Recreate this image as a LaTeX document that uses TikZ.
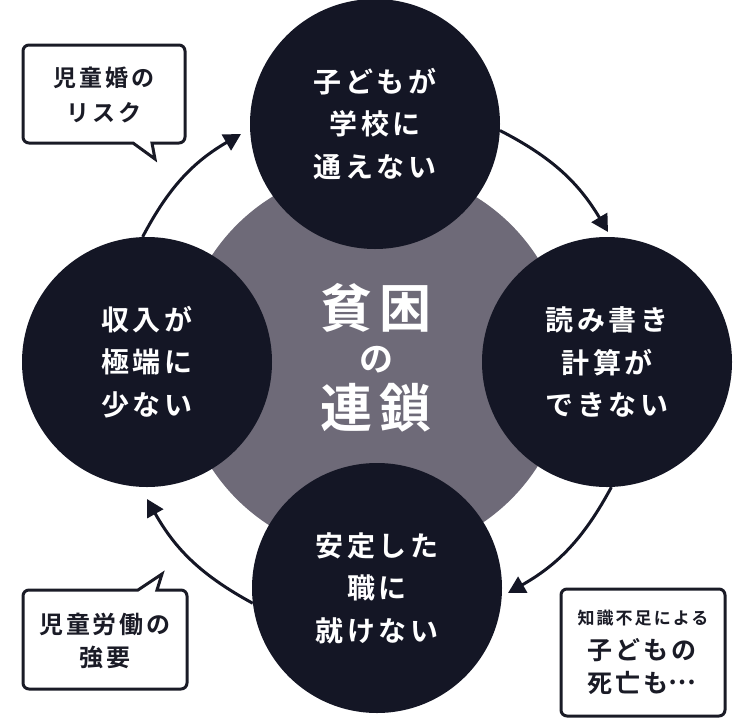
\documentclass[tikz,border=0pt]{standalone}
\usepackage{fontspec}
\setmainfont{Noto Sans CJK JP}[BoldFont={Noto Sans CJK JP Bold}, LetterSpace=12]
\usetikzlibrary{arrows.meta}
\definecolor{navy}{HTML}{141625}
\definecolor{graycirc}{HTML}{6E6A78}
\definecolor{inkc}{HTML}{1A1B26}
\begin{document}
\begin{tikzpicture}[x=1pt,y=-1pt,
  circ/.style={circle, fill=navy, minimum size=250pt, inner sep=0pt, text=white,
    font=\bfseries\fontsize{28}{42.5}\selectfont, align=center},
  arr/.style={line width=3pt, draw=navy, -{Triangle[length=17pt,width=18pt]}},
  callout/.style={draw=inkc, line width=3pt, fill=white, line join=miter},
  calltext/.style={text=inkc, align=center, inner sep=0pt},
  centertext/.style={text=white, inner sep=0pt}]
\useasboundingbox (0,0) rectangle (750,718);
% central disc
\fill[graycirc] (374,362) circle[radius=194];
% four states
\node[circ] (T) at (375,124) {子どもが\\学校に\\通えない};
\node[circ] (R) at (607,362) {読み書き\\計算が\\できない};
\node[circ] (B) at (377,588) {安定した\\職に\\就けない};
\node[circ] (L) at (147,362) {収入が\\極端に\\少ない};
% centre title
\node[centertext, font=\bfseries\fontsize{52}{52}\selectfont] (t1) at (376,308) {貧困};
\node[centertext, font=\bfseries\fontsize{34}{34}\selectfont] (t2) at (376,360) {の};
\node[centertext, font=\bfseries\fontsize{52}{52}\selectfont] (t3) at (376,408) {連鎖};
% cycle arrows
\coordinate (h1) at (241,134);
\coordinate (h2) at (608,232);
\coordinate (h3) at (508,593);
\coordinate (h4) at (147,499);
\draw[arr] (L.92) to[bend left=16] (h1);
\draw[arr] (T.-3) to[bend left=16] (h2);
\draw[arr] (R.-88) to[bend left=16] (h3);
\draw[arr] (B.187) to[bend left=16] (h4);
% callout 1
\draw[callout] (23,94) [rounded corners=6pt] -- (23,45) -- (185,45) -- (185,143) -- (168,143)
  [sharp corners] -- (152,143) -- (155,159) -- (133,143) -- (110,143)
  [rounded corners=6pt] -- (23,143) -- cycle;
\node[calltext, font=\bfseries\fontsize{23}{35}\selectfont] (c1) at (104,95) {児童婚の\\リスク};
% callout 2
\draw[callout] (23,640) [rounded corners=6pt] -- (23,689) -- (187,689) -- (187,590) -- (170,590)
  [sharp corners] -- (157,590) -- (162,574) -- (138,590) -- (110,590)
  [rounded corners=6pt] -- (23,590) -- cycle;
\node[calltext, font=\bfseries\fontsize{24}{33}\selectfont] (c2) at (105,641) {児童労働の\\強要};
% box 3
\draw[callout, rounded corners=6pt] (561,589) rectangle (725,716);
\node[calltext, font=\bfseries\fontsize{17}{17}\selectfont] (c3a) at (643,618) {知識不足による};
\node[calltext, font=\bfseries\fontsize{25}{25}\selectfont] (c3b) at (642,650) {子どもの};
\node[calltext, font=\bfseries\fontsize{25}{25}\selectfont] (c3c) at (642,683) {死亡も\raisebox{0.32em}{…}};
\end{tikzpicture}
\end{document}
